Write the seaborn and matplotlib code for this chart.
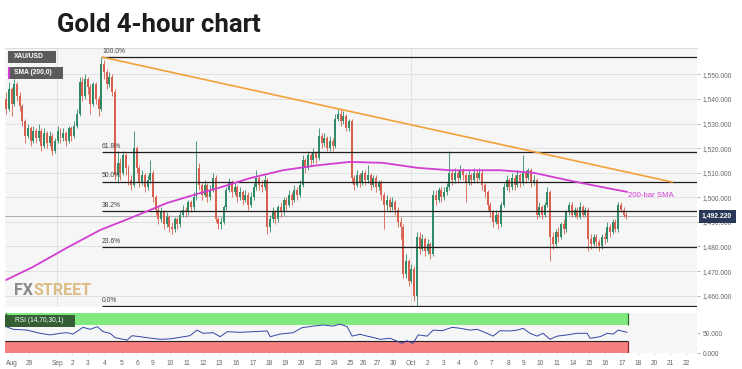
import numpy as np
import pandas as pd
import matplotlib
matplotlib.use("Agg")
import matplotlib.pyplot as plt
import seaborn as sns
from matplotlib.patches import Rectangle

sns.set_theme(style="white")
plt.rcParams['font.family'] = ['Liberation Sans', 'DejaVu Sans']

# ---------------- data (4-hour bars, index = bar number) ----------------
first_open = 1540.0
close = [1536, 1544, 1538, 1546, 1541, 1537,
         1531, 1525, 1528, 1523, 1527, 1524,
         1527, 1521, 1526, 1522, 1525, 1519,
         1523, 1527, 1524, 1526, 1523, 1528,
         1525, 1529, 1534, 1547, 1541, 1548,
         1545, 1538, 1546, 1540, 1536, 1554,
         1551, 1546, 1549, 1543, 1509, 1514,
         1510, 1517, 1512, 1507, 1505, 1520,
         1512, 1506, 1509, 1504, 1507, 1510,
         1500, 1495, 1491, 1494, 1489, 1492,
         1488, 1487, 1491, 1489, 1493, 1495,
         1494, 1498, 1496, 1500, 1512, 1505,
         1501, 1505, 1500, 1503, 1508, 1491,
         1489, 1490, 1496, 1503, 1506, 1502,
         1504, 1500, 1502, 1499, 1501, 1497,
         1500, 1504, 1508, 1505, 1504, 1507,
         1488, 1491, 1494, 1491, 1496, 1494,
         1499, 1497, 1501, 1499, 1503, 1501,
         1505, 1515, 1512, 1517, 1515, 1518,
         1516, 1525, 1522, 1524, 1520, 1523,
         1521, 1532, 1534, 1531, 1533, 1528,
         1531, 1508, 1505, 1509, 1506, 1510,
         1507, 1509, 1505, 1508, 1504, 1506,
         1501, 1497, 1499, 1496, 1498, 1495,
         1490, 1488, 1469, 1474, 1466, 1471,
         1460, 1484, 1479, 1483, 1478, 1481,
         1477, 1501, 1499, 1503, 1500, 1502,
         1504, 1510, 1507, 1510, 1508, 1511,
         1509, 1506, 1509, 1507, 1510, 1508,
         1510, 1505, 1502, 1497, 1494, 1490,
         1493, 1489, 1497, 1504, 1507, 1504,
         1508, 1505, 1509, 1506, 1510, 1508,
         1511, 1506, 1507, 1493, 1496, 1493,
         1497, 1502, 1484, 1481, 1486, 1484,
         1489, 1487, 1494, 1497, 1493, 1495,
         1492, 1496, 1493, 1495, 1483, 1481,
         1484, 1482, 1480, 1484, 1483, 1488,
         1486, 1490, 1487, 1497, 1495, 1493,
         1492.22]
high = [1543, 1547, 1545, 1548, 1547, 1543,
        1538, 1532, 1530, 1529, 1529, 1528,
        1530, 1528, 1528, 1527, 1527, 1526,
        1524, 1529, 1528, 1528, 1527, 1529,
        1529, 1531, 1536, 1549, 1549, 1550,
        1549, 1546, 1547, 1547, 1541, 1557,
        1556, 1552, 1551, 1550, 1544, 1519,
        1516, 1519, 1518, 1513, 1509, 1527,
        1521, 1513, 1511, 1510, 1509, 1515,
        1511, 1501, 1497, 1496, 1495, 1494,
        1493, 1490, 1492, 1492, 1495, 1497,
        1496, 1499, 1499, 1502, 1523, 1514,
        1506, 1507, 1506, 1505, 1510, 1509,
        1492, 1492, 1497, 1504, 1508, 1507,
        1506, 1505, 1504, 1503, 1503, 1502,
        1502, 1506, 1511, 1509, 1507, 1509,
        1508, 1493, 1496, 1495, 1497, 1498,
        1500, 1500, 1503, 1502, 1505, 1504,
        1507, 1517, 1516, 1519, 1518, 1520,
        1519, 1528, 1526, 1526, 1525, 1525,
        1524, 1534, 1536, 1536, 1535, 1534,
        1532, 1532, 1509, 1511, 1510, 1511,
        1511, 1513, 1510, 1509, 1509, 1507,
        1507, 1502, 1501, 1500, 1500, 1499,
        1496, 1492, 1489, 1477, 1475, 1473,
        1472, 1486, 1486, 1485, 1484, 1483,
        1482, 1503, 1503, 1504, 1504, 1504,
        1506, 1519, 1511, 1512, 1511, 1513,
        1512, 1510, 1511, 1510, 1512, 1511,
        1512, 1511, 1506, 1503, 1498, 1495,
        1495, 1494, 1498, 1506, 1509, 1508,
        1510, 1509, 1511, 1510, 1517, 1511,
        1512, 1512, 1509, 1508, 1498, 1497,
        1498, 1504, 1503, 1486, 1487, 1488,
        1490, 1491, 1495, 1498, 1498, 1496,
        1496, 1498, 1497, 1496, 1496, 1485,
        1485, 1485, 1483, 1485, 1486, 1490,
        1489, 1491, 1491, 1498, 1498, 1496,
        1494]
low = [1534, 1535, 1533, 1537, 1539, 1535,
       1529, 1522, 1524, 1521, 1522, 1522,
       1523, 1519, 1520, 1520, 1521, 1517,
       1518, 1522, 1522, 1523, 1521, 1522,
       1523, 1524, 1528, 1533, 1539, 1540,
       1542, 1534, 1537, 1538, 1533, 1535,
       1548, 1544, 1545, 1541, 1507, 1506,
       1507, 1509, 1509, 1505, 1503, 1504,
       1510, 1504, 1505, 1502, 1503, 1506,
       1498, 1493, 1489, 1490, 1487, 1488,
       1486, 1485, 1486, 1487, 1488, 1492,
       1492, 1493, 1494, 1495, 1499, 1503,
       1499, 1500, 1498, 1499, 1502, 1490,
       1487, 1487, 1489, 1495, 1502, 1500,
       1501, 1498, 1499, 1497, 1498, 1495,
       1496, 1499, 1503, 1503, 1502, 1503,
       1485, 1486, 1490, 1489, 1490, 1492,
       1493, 1495, 1496, 1497, 1498, 1499,
       1500, 1504, 1510, 1511, 1513, 1514,
       1514, 1515, 1520, 1521, 1519, 1519,
       1519, 1520, 1531, 1529, 1530, 1527,
       1527, 1506, 1503, 1504, 1504, 1505,
       1505, 1506, 1503, 1504, 1502, 1503,
       1499, 1487, 1495, 1494, 1495, 1493,
       1488, 1483, 1467, 1467, 1464, 1465,
       1458, 1456, 1477, 1478, 1476, 1477,
       1475, 1476, 1497, 1498, 1498, 1499,
       1501, 1503, 1505, 1506, 1506, 1507,
       1507, 1498, 1505, 1505, 1506, 1506,
       1507, 1503, 1500, 1495, 1492, 1488,
       1489, 1487, 1488, 1496, 1503, 1502,
       1503, 1503, 1504, 1504, 1505, 1506,
       1507, 1504, 1505, 1491, 1492, 1491,
       1492, 1496, 1474, 1479, 1480, 1482,
       1483, 1485, 1486, 1493, 1492, 1492,
       1491, 1491, 1492, 1492, 1478, 1479,
       1480, 1480, 1478, 1479, 1481, 1482,
       1484, 1485, 1486, 1486, 1494, 1492,
       1491]

# 200-bar SMA (bar index, value)
sma_idx = [0, 9.9, 22.4, 34.6, 46.7, 59.2, 71.3, 78.7, 89.7, 101.8, 114.3,
           126.5, 138.6, 151.1, 163.2, 181.6, 190.1, 193.8, 206.3, 218.4, 228.3]
sma_val = [1466.4, 1471.7, 1479.5, 1486.7, 1492.0, 1497.7, 1501.7, 1504.0,
           1507.8, 1511.0, 1513.0, 1514.4, 1514.0, 1512.0, 1511.0, 1511.0,
           1510.3, 1510.0, 1507.0, 1504.3, 1502.2]

# RSI(14) (bar index, value)
rsi_idx = [0, 2.6, 7.7, 12.5, 16.2, 19.9, 22.4, 24.6, 28.3, 30.9, 33.5, 35.7,
           38.2, 40.1, 44.5, 46.3, 49.3, 51.8, 56.6, 60.3, 64.0, 67.6, 70.2,
           72.4, 76.1, 78.7, 81.3, 86.0, 90.8, 96.0, 97.1, 100.7, 105.5,
           108.8, 112.9, 116.5, 120.2, 122.8, 125.4, 127.2, 130.1, 132.7,
           133.8, 137.5, 141.2, 145.6, 147.4, 149.6, 151.5, 154.8, 157.0,
           160.3, 164.0, 166.9, 170.6, 173.2, 176.8, 179.0, 181.6, 185.3,
           187.9, 190.1, 192.6, 195.2, 197.4, 200.0, 202.6, 206.3, 209.9,
           213.6, 214.7, 218.4, 221.0, 223.2, 225.0, 228.3]
rsi_val = [66.5, 60, 58, 50, 46, 50, 51.5, 48, 65, 60, 66.5, 54,
           50, 39, 33, 44, 41.5, 39, 35, 36, 40, 44, 58,
           50, 51.5, 41.5, 54, 52.5, 54, 55.8, 41.5, 48, 51.5,
           64, 68, 70.7, 68, 73, 66.5, 43, 47.5, 43,
           41.5, 35, 37.5, 25, 31.5, 25, 46, 43, 58,
           56.5, 65, 62.5, 58, 60, 50, 43, 56.5, 55.8,
           58, 62.5, 50, 43, 50, 35, 43, 46, 50,
           50, 37.5, 41.5, 50, 48, 58, 52.5]

date_labels = ["Aug", "29", "Sep", "2", "3", "4", "5", "6", "9", "10", "11",
               "12", "13", "16", "17", "18", "19", "20", "23", "24", "25",
               "26", "27", "30", "Oct", "2", "3", "4", "6", "7", "8", "9",
               "10", "11", "14", "15", "16", "17", "18", "20", "21", "22"]
date_pos = [2.2, 8.5, 18.8, 24.3, 30.1, 36.4, 42.6, 48.2, 54.0, 60.3, 66.5,
            72.4, 78.3, 84.6, 90.8, 96.7, 102.6, 108.5, 114.7, 120.6, 126.5,
            131.3, 136.4, 142.3, 148.9, 154.8, 160.7, 166.5, 172.4, 178.3,
            184.6, 190.4, 196.3, 202.6, 208.5, 214.3, 220.2, 226.5, 232.4,
            238.2, 244.1, 250.0]
month_pos = [18.8, 148.9]

fib_labels = ["100.0%", "61.8%", "50.0%", "38.2%", "23.6%", "0.0%"]
fib_ratio = [1.0, 0.618, 0.5, 0.382, 0.236, 0.0]
swing_high = 1557.0
swing_low = 1455.8
swing_start = 35.3

trend_x = [35.3, 244.9]
trend_y = [1557.0, 1506.2]

last_price = 1492.22
price_ticks = [1460, 1470, 1480, 1490, 1500, 1510, 1520, 1530, 1540, 1550]
rsi_ticks = [0, 50]

# ---------------- styling ----------------
GREEN = "#2f8a66"
RED = "#d9604e"
MAG = "#d23dd2"
ORANGE = "#f2a23a"
BG = "#f6f6f6"
GRID = "#e2e2e2"
TXT = "#666666"
XMIN, XMAX = -0.4, 254.0

W, H = 742, 369
fig = plt.figure(figsize=(W / 100, H / 100), dpi=100)
fig.patch.set_facecolor("white")


def fx(px):
    return px / W


def fy(py):
    return 1 - py / H


ax = fig.add_axes([fx(5), fy(307), fx(697) - fx(5), fy(48) - fy(307)])
rx = fig.add_axes([fx(5), fy(353.3), fx(697) - fx(5), fy(313.3) - fy(353.3)])

# ---------------- main price panel ----------------
ax.set_facecolor(BG)
ax.set_xlim(XMIN, XMAX)
ax.set_ylim(1455.4, 1560.7)
ax.set_yticks(price_ticks)
ax.set_yticklabels([f"{v:,.3f}" for v in price_ticks])
ax.grid(axis="y", color=GRID, lw=0.7)
ax.grid(axis="x", visible=False)
for m in month_pos:
    ax.axvline(m, color=GRID, lw=0.7, zorder=0)
ax.yaxis.tick_right()
ax.tick_params(axis="y", right=True, length=2.5, width=0.5, color="#999999",
               pad=1.5, labelsize=4.8, labelcolor=TXT)
ax.tick_params(axis="x", bottom=False, labelbottom=False)
for s in ["left", "right", "bottom"]:
    ax.spines[s].set_visible(False)
ax.spines["top"].set_color("#dddddd")
ax.spines["top"].set_linewidth(0.8)

n = len(close)
opens = [first_open] + close[:-1]
df = pd.DataFrame({"i": np.arange(n), "open": opens, "close": close,
                   "high": high, "low": low})
up = df["close"] >= df["open"]
cols = np.where(up, GREEN, RED)
ax.vlines(df["i"], df["low"], df["high"], colors=cols, lw=0.6, zorder=3)
body = (df["close"] - df["open"]).abs().clip(lower=0.35)
ax.bar(df["i"], body, bottom=np.minimum(df["open"], df["close"]), width=0.72,
       color=cols, linewidth=0, zorder=3)

# Fibonacci retracement
for lab, r in zip(fib_labels, fib_ratio):
    lvl = swing_low + r * (swing_high - swing_low)
    ax.hlines(lvl, swing_start, XMAX, color="#1e1e1e", lw=0.9, zorder=4)
    ax.annotate(lab, (swing_start, lvl), xytext=(0, 1.6), textcoords="offset points",
                fontsize=4.9, color="#444444", va="bottom", ha="left", zorder=5)

# current price line
ax.axhline(last_price, color="#a0a0a0", lw=0.6, zorder=2)

# SMA & trend line
sns.lineplot(x=sma_idx, y=sma_val, ax=ax, color=MAG, lw=1.3, sort=False,
             estimator=None, zorder=6)
sns.lineplot(x=trend_x, y=trend_y, ax=ax, color=ORANGE, lw=1.2, sort=False,
             estimator=None, zorder=6)
ax.text(228.5, 1500.9, "200-bar SMA", color=MAG, fontsize=5.6, va="center",
        ha="left", zorder=7)

# current price tag
ax.annotate(f"{last_price:,.3f}", xy=(1.0, last_price),
            xycoords=("axes fraction", "data"), xytext=(3.6, 0),
            textcoords="offset points", fontsize=4.9, color="white",
            weight="bold", va="center", ha="left", zorder=10, annotation_clip=False,
            bbox=dict(boxstyle="square,pad=0.5", fc="#2a3957", ec="none"))

ax.set_xlabel("")
ax.set_ylabel("")

# legend boxes
fig.add_artist(Rectangle((fx(8), fy(63)), fx(56) - fx(8), fy(51) - fy(63),
                         transform=fig.transFigure, fc="#5b5b5b", ec="none"))
fig.text(fx(14), fy(57), "XAU/USD", color="white", fontsize=4.8, weight="bold",
         va="center", ha="left")
fig.add_artist(Rectangle((fx(8), fy(79)), fx(63) - fx(8), fy(67) - fy(79),
                         transform=fig.transFigure, fc="#5b5b5b", ec="none"))
fig.add_artist(Rectangle((fx(8), fy(79)), fx(10) - fx(8), fy(67) - fy(79),
                         transform=fig.transFigure, fc=MAG, ec="none"))
fig.text(fx(14), fy(73), "SMA (200,0)", color="white", fontsize=4.8,
         weight="bold", va="center", ha="left")

# watermark logo
logo_font = ["Roboto", "DejaVu Sans"]
t_fx = fig.text(fx(14), fy(295), "FX", color="#8a8a8a", fontsize=11.5,
                weight="bold", family=logo_font, va="baseline", ha="left")
fig.canvas.draw()
bb = t_fx.get_window_extent(renderer=fig.canvas.get_renderer())
fig.text(bb.x1 / fig.bbox.width + fx(0.5), fy(295), "STREET", color="#dcbd85",
         fontsize=11.5, weight="bold", family=logo_font, va="baseline", ha="left")

# title
fig.text(fx(57), fy(32), "Gold 4-hour chart", fontsize=18.5, weight="bold",
         family=["Roboto", "DejaVu Sans"], color="#1d1d1f", va="baseline", ha="left")

# ---------------- RSI panel ----------------
rx.set_facecolor(BG)
rx.set_xlim(XMIN, XMAX)
rx.set_ylim(0, 100)
last_x = n - 0.5
rx.add_patch(Rectangle((XMIN, 70), last_x - XMIN, 30, fc="#7fe97f", ec="none", zorder=1))
rx.add_patch(Rectangle((XMIN, 0), last_x - XMIN, 30, fc="#f67f7f", ec="none", zorder=1))
rx.hlines(30, XMIN, last_x, color="#222222", lw=0.8, zorder=2)
rx.vlines(last_x, 70, 100, color="#2f6b2f", lw=0.9, zorder=2)
rx.vlines(last_x, 0, 30, color="#8a2a2a", lw=0.9, zorder=2)
rx.vlines(XMIN + 0.5, 70, 100, color="#2f6b2f", lw=0.9, zorder=2)
sns.lineplot(x=rsi_idx, y=rsi_val, ax=rx, color="#3445a6", lw=0.7, sort=False,
             estimator=None, zorder=3)
rx.set_yticks(rsi_ticks)
rx.set_yticklabels([f"{v:,.3f}" for v in rsi_ticks])
rx.yaxis.tick_right()
rx.tick_params(axis="y", right=True, length=2.5, width=0.5, color="#999999",
               pad=1.5, labelsize=4.8, labelcolor=TXT)
rx.set_xticks(date_pos)
rx.set_xticklabels(date_labels)
rx.tick_params(axis="x", bottom=True, length=1.5, width=0.4, color="#bbbbbb",
               pad=3.5, labelsize=4.8, labelcolor=TXT)
for s in ["left", "right", "top", "bottom"]:
    rx.spines[s].set_visible(False)
rx.set_xlabel("")
rx.set_ylabel("")

# RSI label box
fig.add_artist(Rectangle((fx(5), fy(326.5)), fx(75) - fx(5), fy(314.5) - fy(326.5),
                         transform=fig.transFigure, fc="#345f34", ec="none", zorder=5))
fig.text(fx(15), fy(320.5), "RSI (14,70,30,1)", color="white", fontsize=4.8,
         va="center", ha="left", zorder=6)

fig.savefig("out.png", dpi=100, facecolor="white")
